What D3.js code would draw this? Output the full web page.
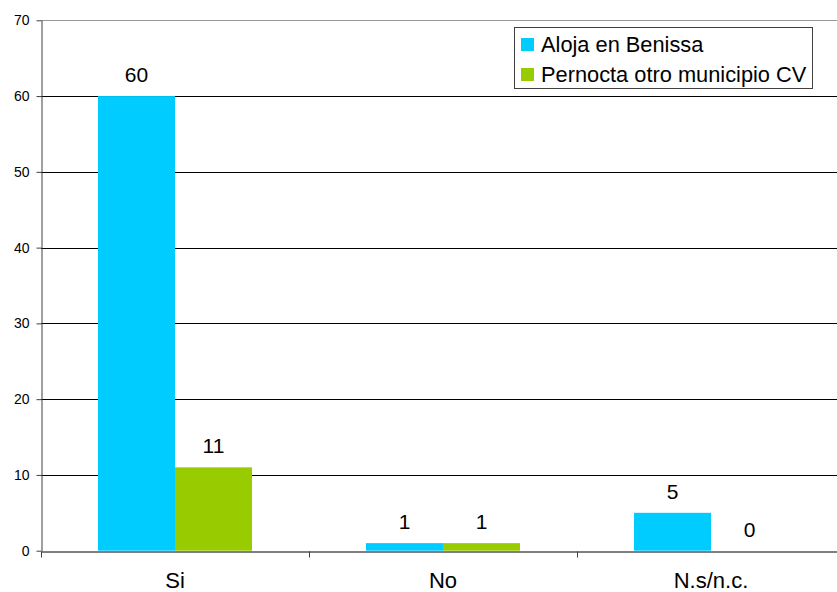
<!DOCTYPE html>
<html>
<head>
<meta charset="utf-8">
<script src="https://cdn.jsdelivr.net/npm/d3@7"></script>
<style>
  html, body { margin: 0; padding: 0; background: #fff; }
  svg { display: block; font-family: "Liberation Sans", Arial, sans-serif; }
</style>
</head>
<body>
<svg id="chart" width="837" height="592"></svg>
<script>
const categories = ["Si", "No", "N.s/n.c."];
const seriesNames = ["Aloja en Benissa", "Pernocta otro municipio CV"];
const alojaValues = [60, 1, 5];
const pernoctaValues = [11, 1, 0];
const yTicks = [0, 10, 20, 30, 40, 50, 60, 70];
const colors = ["#00CCFF", "#99CC00"];

const seriesValues = [alojaValues, pernoctaValues];
const svg = d3.select("#chart");

const plotLeft = 41, plotRight = 845, plotTop = 20.3, plotBottom = 550.7;

const y = d3.scaleLinear().domain([0, 70]).range([plotBottom, plotTop]);
const x0 = d3.scaleBand().domain(categories).range([plotLeft, plotRight]).paddingInner(0).paddingOuter(0);
const x1 = d3.scaleBand().domain(seriesNames).range([0, x0.bandwidth()]).paddingInner(0).paddingOuter(0.74);

// gridlines
svg.append("g").selectAll("line")
  .data(yTicks.filter(t => t > 0))
  .join("line")
  .attr("x1", plotLeft).attr("x2", plotRight)
  .attr("y1", d => Math.round(y(d)) + 0.5).attr("y2", d => Math.round(y(d)) + 0.5)
  .attr("stroke", d => d === 70 ? "#999" : "#000")
  .attr("stroke-width", 1);

// bars
const rowsFor = (c, i) => seriesNames.map((s, j) => ({ s, j, v: seriesValues[j][i] }));
const groups = svg.append("g").selectAll("g")
  .data(categories)
  .join("g")
  .attr("transform", d => `translate(${x0(d)},0)`);

groups.selectAll("rect")
  .data(rowsFor)
  .join("rect")
  .attr("x", d => x1(d.s))
  .attr("width", x1.bandwidth())
  .attr("y", d => y(d.v))
  .attr("height", d => y(0) - y(d.v))
  .attr("fill", d => colors[d.j]);

groups.selectAll("text")
  .data(rowsFor)
  .join("text")
  .attr("x", d => x1(d.s) + x1.bandwidth() / 2)
  .attr("y", d => y(d.v) - 14)
  .attr("text-anchor", "middle")
  .attr("font-size", 21)
  .attr("fill", "#000")
  .text(d => d.v);

// y axis
const yAxis = d3.axisLeft(y).tickValues(yTicks).tickSize(5).tickPadding(7).tickSizeOuter(0);
const gy = svg.append("g").attr("transform", `translate(${plotLeft + 0.5},0)`).call(yAxis);
gy.select(".domain").attr("stroke", "#404040");
gy.selectAll(".tick line").attr("stroke", "#404040");
gy.selectAll(".tick text").attr("font-size", 14).attr("fill", "#000").attr("font-family", "Liberation Sans, Arial, sans-serif");

// x axis
const xAxis = d3.axisBottom(x0).tickSize(0).tickPadding(0).tickSizeOuter(0);
const gx = svg.append("g").attr("transform", `translate(0,${Math.round(plotBottom) + 0.5})`).call(xAxis);
gx.select(".domain").attr("stroke", "#000");
gx.selectAll(".tick text")
  .attr("font-size", 22)
  .attr("fill", "#000")
  .attr("font-family", "Liberation Sans, Arial, sans-serif")
  .attr("dy", 0)
  .attr("y", 36);
// category separators
const bounds = categories.map(c => x0(c)).concat([x0(categories[categories.length - 1]) + x0.bandwidth()]);
gx.selectAll("line.sep")
  .data(bounds)
  .join("line")
  .attr("class", "sep")
  .attr("x1", d => Math.round(d) + 0.5).attr("x2", d => Math.round(d) + 0.5)
  .attr("y1", 0).attr("y2", 6)
  .attr("stroke", "#404040");

// legend
const lg = svg.append("g").attr("transform", "translate(514.5,27.5)");
lg.append("rect").attr("width", 298).attr("height", 61)
  .attr("fill", "#fff").attr("stroke", "#404040").attr("stroke-width", 1);
const items = lg.selectAll("g.item").data(seriesNames).join("g")
  .attr("class", "item")
  .attr("transform", (d, i) => `translate(0,${i * 30})`);
items.append("rect").attr("x", 6.5).attr("y", 10.5).attr("width", 13).attr("height", 13)
  .attr("fill", (d, i) => colors[i]);
items.append("text").attr("x", 26.5).attr("y", 24.5)
  .attr("font-size", 21.8).attr("fill", "#000").text(d => d);
</script>
</body>
</html>
